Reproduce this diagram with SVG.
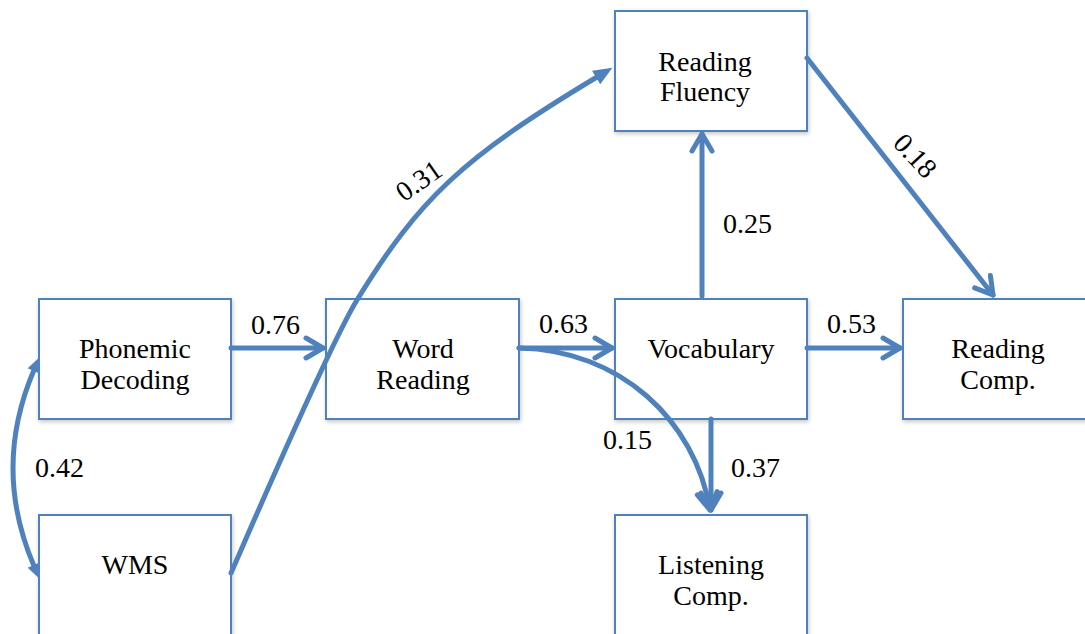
<svg xmlns="http://www.w3.org/2000/svg" width="1085" height="634" viewBox="0 0 1085 634">
<style>
.box{fill:#ffffff;stroke:#4f81bd;stroke-width:2;filter:url(#sh)}
.t{font-family:"Liberation Serif","Times New Roman",serif;font-size:28px;fill:#000;text-anchor:middle}
.l{font-family:"Liberation Serif","Times New Roman",serif;font-size:28px;fill:#000}
.c{fill:none;stroke:#4f81bd;stroke-width:5;stroke-linecap:round;stroke-linejoin:round}
</style>
<defs>
<filter id="sh" x="-10%" y="-10%" width="130%" height="130%">
<feDropShadow dx="1" dy="2" stdDeviation="2" flood-color="#000" flood-opacity="0.22"/>
</filter>
<marker id="open" markerUnits="userSpaceOnUse" orient="auto" overflow="visible" markerWidth="40" markerHeight="40" refX="0" refY="0">
<path d="M-17,-10 L0,0 L-17,10" fill="none" stroke="#4f81bd" stroke-width="5" stroke-linecap="round" stroke-linejoin="round"/>
</marker>
<marker id="tri" markerUnits="userSpaceOnUse" orient="auto" overflow="visible" markerWidth="40" markerHeight="40" refX="0" refY="0">
<path d="M-1,-8 L18,0 L-1,8 Z" fill="#4f81bd"/>
</marker>
<marker id="tri2" markerUnits="userSpaceOnUse" orient="auto-start-reverse" overflow="visible" markerWidth="40" markerHeight="40" refX="0" refY="0">
<path d="M-1,-6.5 L14,0 L-1,6.5 Z" fill="#4f81bd"/>
</marker>
</defs>

<g id="node-phonemic">
<rect class="box" x="39" y="299" width="192" height="120"/>
<text class="t" x="135" y="358">Phonemic</text>
<text class="t" x="135" y="389">Decoding</text>
</g>
<g id="node-wms">
<rect class="box" x="39" y="515" width="192" height="125"/>
<text class="t" x="135" y="574">WMS</text>
</g>
<g id="node-word">
<rect class="box" x="326" y="299" width="193" height="120"/>
<text class="t" x="423" y="358">Word</text>
<text class="t" x="423" y="389">Reading</text>
</g>
<g id="node-vocab">
<rect class="box" x="615" y="299" width="192" height="120"/>
<text class="t" x="711" y="358">Vocabulary</text>
</g>
<g id="node-fluency">
<rect class="box" x="615" y="11" width="192" height="120"/>
<text class="t" x="705" y="71">Reading</text>
<text class="t" x="705" y="101">Fluency</text>
</g>
<g id="node-readcomp">
<rect class="box" x="903" y="299" width="192" height="120"/>
<text class="t" x="998" y="358">Reading</text>
<text class="t" x="998" y="389">Comp.</text>
</g>
<g id="node-listen">
<rect class="box" x="615" y="515" width="192" height="125"/>
<text class="t" x="711" y="574">Listening</text>
<text class="t" x="711" y="605">Comp.</text>
</g>

<g id="connectors">
<path class="c" d="M231,348 L323,348" marker-end="url(#open)"/>
<path class="c" d="M519,348 L612,348" marker-end="url(#open)"/>
<path class="c" d="M807,348 L900,348" marker-end="url(#open)"/>
<path class="c" d="M702,296 L702,134" marker-end="url(#open)"/>
<path class="c" d="M711,419 L711,510" marker-end="url(#open)"/>
<path class="c" d="M807,58 L993,295" marker-end="url(#open)"/>
<path class="c" d="M519,348 C620,350 695,420 710,510" marker-end="url(#open)"/>
<path class="c" d="M231,573 C259,509 330,344 357,300 C419,199 462,158 597,77" marker-end="url(#tri)"/>
<path class="c" d="M34,370 Q-8,468 34,566" marker-start="url(#tri2)" marker-end="url(#tri2)"/>
</g>

<g id="labels">
<text class="l" x="251" y="334">0.76</text>
<text class="l" x="539" y="333">0.63</text>
<text class="l" x="827" y="333">0.53</text>
<text class="l" x="723" y="233">0.25</text>
<text class="l" x="603" y="449">0.15</text>
<text class="l" x="731" y="477">0.37</text>
<text class="l" x="35" y="477">0.42</text>
<text class="t" transform="translate(419,181) rotate(-35)" x="0" y="9">0.31</text>
<text class="t" transform="translate(915,156) rotate(47)" x="0" y="9">0.18</text>
</g>
</svg>
